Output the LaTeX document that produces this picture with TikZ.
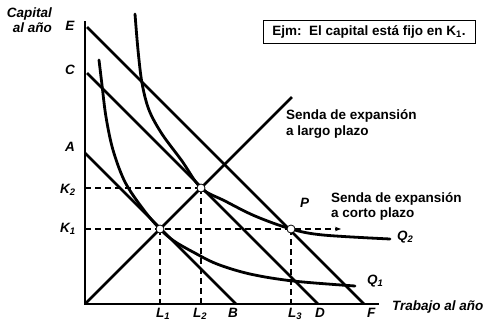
\documentclass[tikz,border=0pt]{standalone}
\usepackage{fontspec}
\setmainfont{Liberation Sans}
\usetikzlibrary{arrows.meta}
\begin{document}
\begin{tikzpicture}[x=1pt,y=-1pt,
  axisline/.style={line width=1.8pt},
  budget/.style={line width=2.6pt},
  iso/.style={line width=2.8pt, line cap=round},
  guide/.style={line width=1.4pt, dash pattern=on 6pt off 4pt},
  tangpt/.style={circle, draw, fill=white, line width=0.8pt, inner sep=0pt, minimum size=8pt},
  lbl/.style={font=\fontsize{13.5}{15}\selectfont\bfseries\itshape, inner sep=0pt},
  txt/.style={font=\fontsize{13.5}{15}\selectfont\bfseries, inner sep=0pt}]
\useasboundingbox (0,0) rectangle (496,327);
% key coordinates
\coordinate (O) at (85,304);
\coordinate (Ytop) at (85,21);
\coordinate (Xend) at (379,304);
\coordinate (Astart) at (85,153);
\coordinate (Bend) at (236,304);
\coordinate (Cstart) at (87,73);
\coordinate (Dend) at (318,304);
\coordinate (Estart) at (87,27);
\coordinate (Fend) at (364,304);
\coordinate (LRend) at (292,97);
\coordinate (T1) at (160,229);
\coordinate (T2) at (201,188);
\coordinate (T3) at (291,229);
\coordinate (Arr) at (341,229);
% axes
\draw[axisline] (Ytop) -- (O) -- (Xend);
% isocost lines
\draw[budget] (Astart) -- (Bend);
\draw[budget] (Cstart) -- (Dend);
\draw[budget] (Estart) -- (Fend);
% long-run expansion path
\draw[budget] (O) -- (LRend);
% isoquants
\draw[iso] plot[smooth, tension=0.55] coordinates {(99,60) (102,85) (106,117) (113,150) (125,182) (143,209) (160,229) (174,241) (193,252) (217,264) (250,274) (293,281) (355,286)};
\draw[iso] plot[smooth, tension=0.55] coordinates {(135,14) (138,50) (142,83) (149,110) (162,134) (182,161) (201,188) (225,201) (255,216) (291,229) (323,235) (390,239)};
% dashed guides
\draw[guide] (Ytop |- T2) -- (T2);
\draw[guide] (T2) -- (T2 |- O);
\draw[guide] (T1) -- (T1 |- O);
\draw[guide] (T3) -- (T3 |- O);
\draw[guide, -{Stealth[length=6pt,width=4.5pt]}] (Ytop |- T1) -- (Arr);
% tangency points
\node[tangpt] (P1) at (T1) {};
\node[tangpt] (P2) at (T2) {};
\node[tangpt] (P3) at (T3) {};
% labels
\node[lbl, anchor=base east] (capA) at (52,17) {Capital};
\node[lbl, anchor=base east] (capB) at (52,32) {al año};
\node[lbl, anchor=base] (labE) at (70,30) {E};
\node[lbl, anchor=base] (labC) at (70,74) {C};
\node[lbl, anchor=base] (labA) at (70,151) {A};
\node[lbl, anchor=base west] (labK2) at (60,193) {K\textsubscript{2}};
\node[lbl, anchor=base west] (labK1) at (60,232) {K\textsubscript{1}};
\node[lbl, anchor=base west] (labL1) at (156,317) {L\textsubscript{1}};
\node[lbl, anchor=base west] (labL2) at (193,317) {L\textsubscript{2}};
\node[lbl, anchor=base west] (labB) at (228,317) {B};
\node[lbl, anchor=base west] (labL3) at (288,317) {L\textsubscript{3}};
\node[lbl, anchor=base west] (labD) at (315,317) {D};
\node[lbl, anchor=base west] (labF) at (367,317) {F};
\node[lbl, anchor=base west] (labX) at (392,310) {Trabajo al año};
\node[lbl, anchor=base west] (labQ2) at (397,240) {Q\textsubscript{2}};
\node[lbl, anchor=base west] (labQ1) at (367,284) {Q\textsubscript{1}};
\node[lbl, anchor=base west] (labP) at (300,207) {P};
\node[txt, anchor=base west] (lrA) at (286,119) {Senda de expansión};
\node[txt, anchor=base west] (lrB) at (286,135) {a largo plazo};
\node[txt, anchor=base west] (srA) at (331,202) {Senda de expansión};
\node[txt, anchor=base west] (srB) at (331,217) {a corto plazo};
\node[txt, draw, line width=0.9pt, minimum width=212pt, minimum height=23pt] (box) at (369,31.5) {Ejm:\ \ El capital está fijo en K\textsubscript{1}.};
\end{tikzpicture}
\end{document}
